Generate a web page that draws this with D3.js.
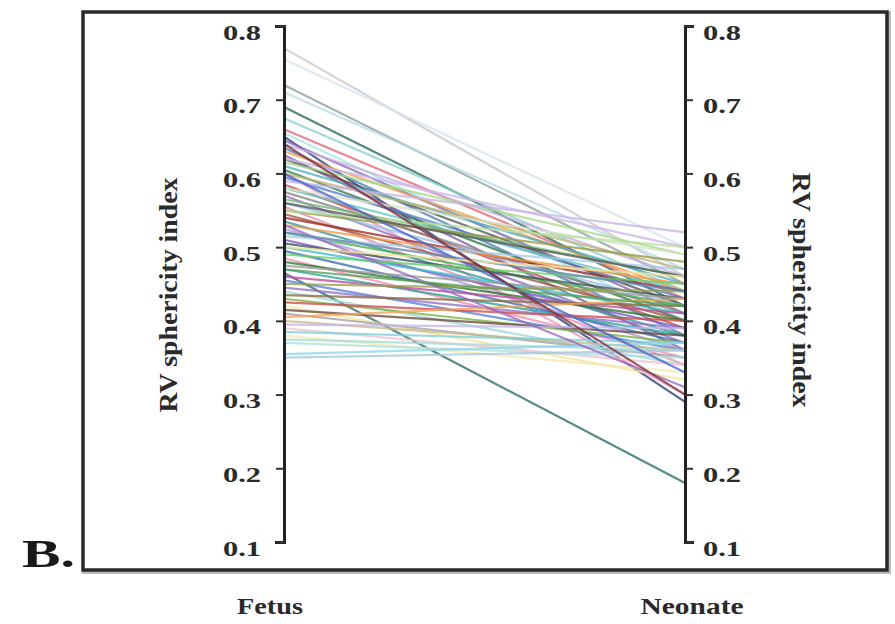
<!DOCTYPE html>
<html>
<head>
<meta charset="utf-8">
<script src="https://cdn.jsdelivr.net/npm/d3@7"></script>
<style>
  html, body { margin: 0; padding: 0; background: #fff; }
  svg { display: block; }
</style>
</head>
<body>
<svg id="chart" width="895" height="624"></svg>
<script>
// Paired RV sphericity index: each subject measured as fetus and again as neonate
const stages = ["Fetus", "Neonate"];
const fetusValues = [
  0.77, 0.755, 0.72, 0.71, 0.69, 0.675, 0.66, 0.655, 0.65, 0.645,
  0.64, 0.635, 0.63, 0.625, 0.62, 0.615, 0.61, 0.605, 0.60, 0.60,
  0.595, 0.59, 0.585, 0.58, 0.575, 0.57, 0.565, 0.56, 0.555, 0.55,
  0.545, 0.54, 0.535, 0.53, 0.525, 0.52, 0.515, 0.51, 0.505, 0.50,
  0.495, 0.49, 0.485, 0.48, 0.475, 0.47, 0.465, 0.46, 0.455, 0.45,
  0.445, 0.44, 0.435, 0.43, 0.425, 0.42, 0.415, 0.41, 0.405, 0.40,
  0.395, 0.39, 0.385, 0.38, 0.375, 0.37, 0.355, 0.35, 0.62, 0.58,
  0.55, 0.53, 0.60, 0.56, 0.52, 0.50, 0.64, 0.47
];
const neonateValues = [
  0.46, 0.50, 0.45, 0.47, 0.42, 0.44, 0.43, 0.40, 0.29, 0.41,
  0.46, 0.38, 0.44, 0.36, 0.42, 0.49, 0.45, 0.40, 0.30, 0.47,
  0.43, 0.52, 0.39, 0.44, 0.41, 0.37, 0.46, 0.42, 0.34, 0.48,
  0.40, 0.44, 0.38, 0.45, 0.36, 0.42, 0.47, 0.39, 0.43, 0.41,
  0.37, 0.45, 0.35, 0.40, 0.43, 0.38, 0.18, 0.41, 0.36, 0.44,
  0.39, 0.34, 0.42, 0.37, 0.40, 0.32, 0.38, 0.35, 0.43, 0.36,
  0.39, 0.34, 0.37, 0.33, 0.36, 0.35, 0.37, 0.36, 0.50, 0.49,
  0.50, 0.31, 0.33, 0.46, 0.44, 0.46, 0.30, 0.42
];
const tickValues = [0.1, 0.2, 0.3, 0.4, 0.5, 0.6, 0.7, 0.8];
const axisTitle = "RV sphericity index";
const panelLabel = "B.";

// One colour per subject line
const lineColors = [
  "#c9c9c9", "#d8e4ee", "#8fa39a", "#b7dbe8", "#2f6b5e", "#8fd0d0", "#e06a7a", "#a8e3ea", "#2b3f7a", "#8c6bb1",
  "#c5b3e0", "#4f81bd", "#f0a050", "#8064a2", "#555555", "#a9d98a", "#4bacc6", "#3b7a4a", "#e89ab8", "#c2b77a",
  "#5b7fc8", "#c8b4e6", "#c0504d", "#6cc5c5", "#8a8a8a", "#9370c0", "#6fbf6f", "#9cc3e8", "#e58fb0", "#9a9a4a",
  "#a05a3c", "#a03030", "#3f9a9a", "#f29a4a", "#b39ddb", "#4caf50", "#a6cbe8", "#7e57c2", "#455a64", "#40c0d0",
  "#3f6fb5", "#66d06a", "#f48fb1", "#2e7d32", "#9e9e9e", "#26a69a", "#2f6f6a", "#c050a0", "#5c85d6", "#9aa04a",
  "#9575cd", "#9fd8d8", "#8d6e4a", "#7cb342", "#d05050", "#f0e6a0", "#6d4c41", "#a0a0a0", "#f5a55a", "#c8bc8a",
  "#c7b8ea", "#f4c2d0", "#7fd0d8", "#f2eab0", "#a8dcd8", "#b2e0e0", "#90d8e8", "#a7c8e0", "#cdb6e8", "#d6e2c8",
  "#b8e0a0", "#9a6ac0", "#4a6ad0", "#5a5a5a", "#6a8ab8", "#efe4a0", "#803040", "#5aa05a"
];

const serif = "'Liberation Serif', 'Times New Roman', Times, serif";
const svg = d3.select("#chart");

const x = d3.scalePoint().domain(stages).range([284, 685]);
const y = d3.scaleLinear().domain([0.1, 0.8]).range([542, 26]);

// Soft rendering of the dense line bundle
const defs = svg.append("defs");
defs.append("filter").attr("id", "soft")
  .attr("x", "-5%").attr("y", "-5%").attr("width", "110%").attr("height", "110%")
  .append("feGaussianBlur").attr("stdDeviation", 0.7);

// Outer frame
svg.append("rect")
  .attr("x", 84).attr("y", 13).attr("width", 805).attr("height", 559)
  .attr("fill", "none").attr("stroke", "#bbb").attr("stroke-width", 4);
svg.append("rect")
  .attr("x", 83).attr("y", 12).attr("width", 804).attr("height", 558)
  .attr("fill", "#fff").attr("stroke", "#2a2a2a").attr("stroke-width", 3.5);

// Subject lines
const subjects = fetusValues.map((f, i) => ({ fetus: f, neonate: neonateValues[i], color: lineColors[i % lineColors.length] }));
const line = d3.line().x(d => x(d[0])).y(d => y(d[1]));

svg.append("g").attr("filter", "url(#soft)")
  .selectAll("path")
  .data(subjects)
  .join("path")
  .attr("d", d => line([[stages[0], d.fetus], [stages[1], d.neonate]]))
  .attr("fill", "none")
  .attr("stroke", d => d.color)
  .attr("stroke-width", 2.2)
  .attr("stroke-opacity", 0.8);

// Axes on both sides
const fmt = d3.format(".1f");
const leftAxis = svg.append("g")
  .attr("transform", `translate(${x(stages[0])},0)`)
  .call(d3.axisLeft(y).tickValues(tickValues).tickFormat(fmt).tickSize(8).tickSizeOuter(9).tickPadding(15));
const rightAxis = svg.append("g")
  .attr("transform", `translate(${x(stages[1])},0)`)
  .call(d3.axisRight(y).tickValues(tickValues).tickFormat(fmt).tickSize(8).tickSizeOuter(9).tickPadding(10));

[leftAxis, rightAxis].forEach(g => {
  g.attr("font-family", serif).attr("font-weight", "bold");
  g.select(".domain").attr("stroke", "#222").attr("stroke-width", 3);
  g.selectAll(".tick line").attr("stroke", "#333").attr("stroke-width", 2);
  g.selectAll(".tick text")
    .style("font-family", serif)
    .style("font-weight", "bold")
    .attr("font-size", 21)
    .attr("dy", "0.62em")
    .attr("textLength", 38)
    .attr("lengthAdjust", "spacingAndGlyphs")
    .attr("fill", "#2a2a2a");
});

// Axis titles
function title(transform) {
  svg.append("text")
    .attr("transform", transform)
    .attr("text-anchor", "middle").attr("dominant-baseline", "central")
    .style("font-family", serif).style("font-weight", "bold")
    .attr("fill", "#2a2a2a")
    .attr("font-size", 26).attr("textLength", 235).attr("lengthAdjust", "spacingAndGlyphs")
    .text(axisTitle);
}
title("translate(168,295) rotate(-90)");
title("translate(801,290) rotate(90)");

// Category labels below the frame
const catWidths = { "Fetus": 66, "Neonate": 103 };
const catCenters = { "Fetus": x("Fetus") - 14, "Neonate": x("Neonate") + 7 };
svg.selectAll("text.cat")
  .data(stages)
  .join("text")
  .attr("class", "cat")
  .attr("x", d => catCenters[d])
  .attr("y", 614)
  .attr("text-anchor", "middle")
  .style("font-family", serif).style("font-weight", "bold")
  .attr("fill", "#2a2a2a")
  .attr("font-size", 23)
  .attr("textLength", d => catWidths[d])
  .attr("lengthAdjust", "spacingAndGlyphs")
  .text(d => d);

// Panel letter
svg.append("text")
  .attr("x", 22).attr("y", 567)
  .style("font-family", serif).style("font-weight", "bold")
  .attr("fill", "#1a1a1a")
  .attr("font-size", 40)
  .attr("textLength", 53).attr("lengthAdjust", "spacingAndGlyphs")
  .text(panelLabel);
</script>
</body>
</html>
